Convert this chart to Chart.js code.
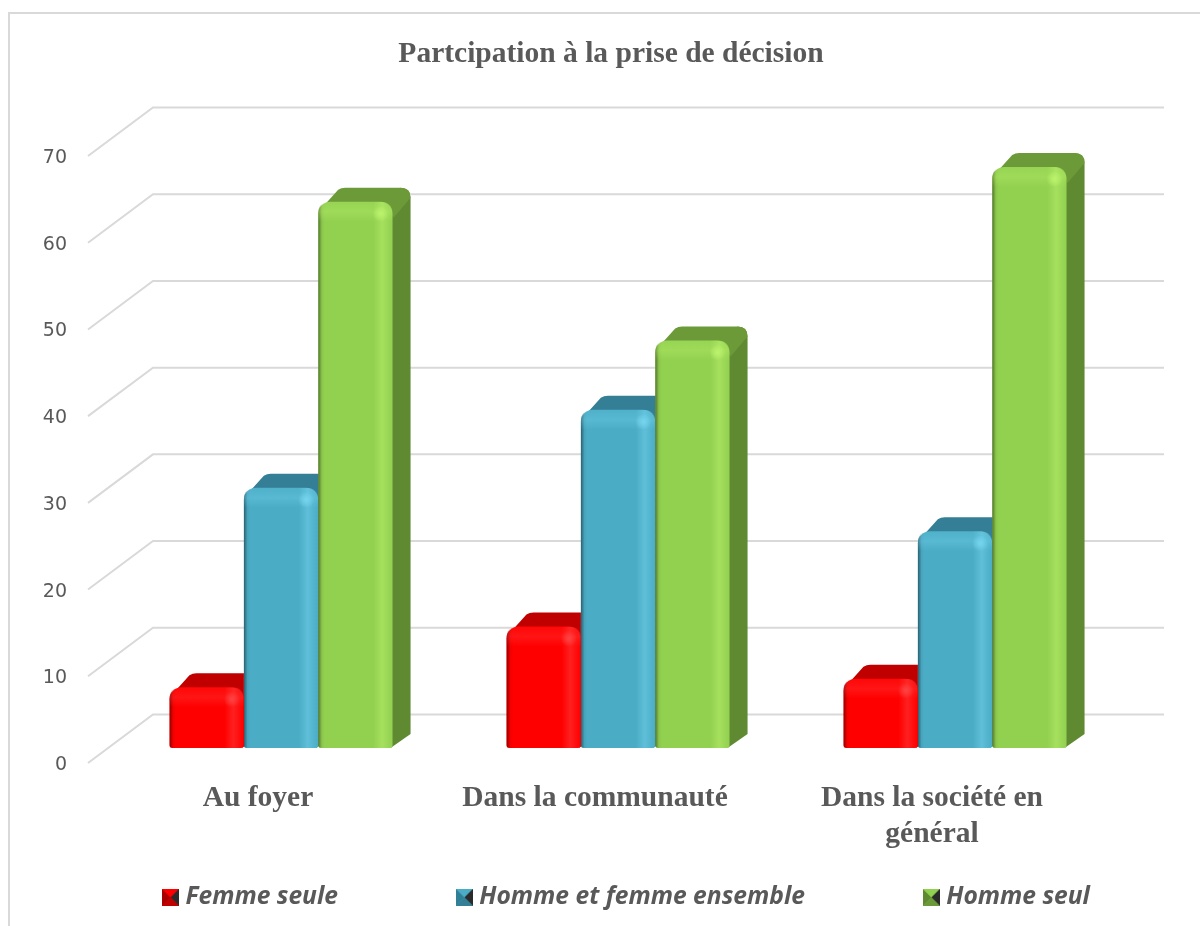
<!DOCTYPE html>
<html lang="fr">
<head>
<meta charset="utf-8">
<title>Participation</title>
<script src="https://cdn.jsdelivr.net/npm/chart.js@4"></script>
<style>
  html, body { margin: 0; background: #fff; }
  canvas { display: block; }
</style>
</head>
<body>
<canvas id="grafico" width="1200" height="926"></canvas>
<script>
const categorias = ['Au foyer', 'Dans la communauté', ['Dans la société en', 'général']];
const femmeSeule = [7, 14, 8];
const ensemble = [30, 39, 25];
const hommeSeul = [63, 47, 67];
const ticksY = [0, 10, 20, 30, 40, 50, 60, 70];

const corTexto = '#595959';
const corGrade = '#d9d9d9';
// frente, lado, topo, brilho
const cores = [
  ['#ff0000', '#a80000', '#c00000', 'rgba(255,70,70,'],
  ['#4bacc6', '#2f7f96', '#347f95', 'rgba(120,215,240,'],
  ['#92d050', '#5f8a31', '#6c9a38', 'rgba(190,245,110,']
];

function icone(frente, lado, topo) {
  const c = document.createElement('canvas');
  c.width = 17; c.height = 17;
  const g = c.getContext('2d');
  const tri = (cor, pts) => {
    g.fillStyle = cor;
    g.beginPath();
    pts.forEach((p, i) => i ? g.lineTo(p[0], p[1]) : g.moveTo(p[0], p[1]));
    g.closePath();
    g.fill();
  };
  g.fillStyle = frente;
  g.fillRect(0, 0, 17, 17);
  tri(topo, [[0, 17], [17, 17], [8.5, 8.5]]);
  tri(lado, [[0, 0], [0, 17], [8.5, 8.5]]);
  tri(frente, [[0, 0], [17, 0], [8.5, 8.5]]);
  tri('#2a2a2a', [[17, 0], [17, 17], [8.5, 8.5]]);
  return c;
}
const icones = cores.map(c => icone(c[0], c[1], c[2]));

function arredondado(ctx, x, y, w, h, r, rb) {
  ctx.beginPath();
  ctx.moveTo(x + r, y);
  ctx.lineTo(x + w - r, y);
  ctx.quadraticCurveTo(x + w, y, x + w, y + r);
  ctx.lineTo(x + w, y + h - rb);
  ctx.quadraticCurveTo(x + w, y + h, x + w - rb, y + h);
  ctx.lineTo(x + rb, y + h);
  ctx.quadraticCurveTo(x, y + h, x, y + h - rb);
  ctx.lineTo(x, y + r);
  ctx.quadraticCurveTo(x, y, x + r, y);
  ctx.closePath();
}

const DX = 18, DY = 14;

const fundo3d = {
  id: 'fundo3d',
  beforeDraw(chart) {
    const ctx = chart.ctx;
    ctx.save();
    ctx.strokeStyle = corGrade;
    ctx.lineWidth = 2;
    ctx.beginPath();
    ctx.moveTo(9, 926);
    ctx.lineTo(9, 13);
    ctx.lineTo(1200, 13);
    ctx.stroke();
    ctx.restore();
  },
  beforeDatasetsDraw(chart) {
    const ctx = chart.ctx;
    const y = chart.scales.y;
    ctx.save();
    ctx.strokeStyle = corGrade;
    ctx.lineWidth = 2;
    ticksY.forEach(v => {
      const py = y.getPixelForValue(v);
      ctx.beginPath();
      ctx.moveTo(88, py);
      ctx.lineTo(153, py - 48.5);
      ctx.lineTo(1164, py - 48.5);
      ctx.stroke();
    });
    // lado e topo das barras
    chart.data.datasets.forEach((ds, i) => {
      chart.getDatasetMeta(i).data.forEach(el => {
        const p = el.getProps(['x', 'y', 'base', 'width'], true);
        const x1 = p.x - p.width / 2, x2 = p.x + p.width / 2;
        ctx.fillStyle = cores[i][1];
        ctx.beginPath();
        ctx.moveTo(x2 - 6, p.y + 4);
        ctx.lineTo(x2 + DX - 10, p.y - DY);
        ctx.quadraticCurveTo(x2 + DX, p.y - DY, x2 + DX, p.y - DY + 10);
        ctx.lineTo(x2 + DX, p.base - DY);
        ctx.lineTo(x2 - 2, p.base);
        ctx.closePath();
        ctx.fill();
        ctx.fillStyle = cores[i][2];
        ctx.beginPath();
        ctx.moveTo(x1 + 2, p.y + 8);
        ctx.lineTo(x1 + DX + 2, p.y - DY + 2);
        ctx.quadraticCurveTo(x1 + DX + 5, p.y - DY, x1 + DX + 9, p.y - DY);
        ctx.lineTo(x2 + DX - 10, p.y - DY);
        ctx.quadraticCurveTo(x2 + DX, p.y - DY, x2 + DX, p.y - DY + 10);
        ctx.lineTo(x2 + 1, p.y + 16);
        ctx.lineTo(x2 - 6, p.y + 4);
        ctx.closePath();
        ctx.fill();
      });
    });
    ctx.restore();
  },
  afterDatasetsDraw(chart) {
    // brilho e chanfro da face frontal
    const ctx = chart.ctx;
    chart.data.datasets.forEach((ds, i) => {
      const brilho = cores[i][3];
      chart.getDatasetMeta(i).data.forEach(el => {
        const p = el.getProps(['x', 'y', 'base', 'width'], true);
        const x1 = p.x - p.width / 2, h = p.base - p.y;
        ctx.save();
        arredondado(ctx, x1, p.y, p.width, h, 12, 3);
        ctx.clip();
        const gh = ctx.createLinearGradient(x1, 0, x1 + p.width, 0);
        gh.addColorStop(0, 'rgba(0,0,0,0.45)');
        gh.addColorStop(0.05, 'rgba(0,0,0,0.05)');
        gh.addColorStop(0.09, 'rgba(0,0,0,0)');
        ctx.fillStyle = gh;
        ctx.fillRect(x1, p.y, p.width, h);
        const gb = ctx.createLinearGradient(x1, 0, x1 + p.width, 0);
        gb.addColorStop(0.74, brilho + '0)');
        gb.addColorStop(0.86, brilho + '0.45)');
        gb.addColorStop(0.95, brilho + '0.15)');
        gb.addColorStop(1, brilho + '0)');
        ctx.fillStyle = gb;
        ctx.fillRect(x1, p.y, p.width, h);
        const gv = ctx.createLinearGradient(0, p.y, 0, p.y + 20);
        gv.addColorStop(0, brilho + '0.1)');
        gv.addColorStop(0.5, brilho + '0.3)');
        gv.addColorStop(1, brilho + '0)');
        ctx.fillStyle = gv;
        ctx.fillRect(x1, p.y, p.width, 20);
        const gr = ctx.createRadialGradient(x1 + p.width - 12, p.y + 12, 0, x1 + p.width - 12, p.y + 12, 8);
        gr.addColorStop(0, brilho + '0.9)');
        gr.addColorStop(1, brilho + '0)');
        ctx.fillStyle = gr;
        ctx.fillRect(x1 + p.width - 20, p.y + 4, 16, 16);
        ctx.restore();
      });
    });
  },
  afterLayout(chart) {
    // titulo e legenda nao ficam centrados no canvas
    chart.titleBlock.left -= 4;
    chart.titleBlock.right -= 4;
    chart.legend.left += 14;
    chart.legend.right += 14;
    chart.legend.top -= 3;
    // senao o eixo corta os rotulos
    chart.scales.x.bottom = 870;
  }
};

const raioBarra = { topLeft: 12, topRight: 12, bottomLeft: 3, bottomRight: 3 };

new Chart(document.getElementById('grafico'), {
  type: 'bar',
  plugins: [fundo3d],
  data: {
    labels: categorias,
    datasets: [
      { label: 'Femme seule', data: femmeSeule, backgroundColor: cores[0][0], yAxisID: 'y1', borderRadius: raioBarra, borderSkipped: false },
      { label: 'Homme et femme ensemble', data: ensemble, backgroundColor: cores[1][0], yAxisID: 'y1', borderRadius: raioBarra, borderSkipped: false },
      { label: 'Homme seul', data: hommeSeul, backgroundColor: cores[2][0], yAxisID: 'y1', borderRadius: raioBarra, borderSkipped: false }
    ]
  },
  options: {
    responsive: false,
    animation: false,
    layout: { padding: { left: 30, right: 0, top: 0, bottom: 3.4 } },
    datasets: { bar: { categoryPercentage: 0.662, barPercentage: 1 } },
    plugins: {
      title: {
        display: true,
        text: 'Partcipation à la prise de décision',
        color: corTexto,
        font: { family: '"Liberation Serif"', size: 29.5, weight: 'bold', lineHeight: 1.2 },
        padding: { top: 37, bottom: 83.6 }
      },
      legend: {
        position: 'bottom',
        labels: {
          color: corTexto,
          font: { family: '"Open Sans"', size: 24.6, style: 'italic', weight: 'bold' },
          usePointStyle: true,
          boxWidth: 5,
          padding: 124,
          generateLabels(chart) {
            const itens = Chart.defaults.plugins.legend.labels.generateLabels(chart);
            itens.forEach((it, i) => { it.pointStyle = icones[i]; });
            return itens;
          }
        }
      },
      tooltip: { enabled: false }
    },
    scales: {
      x: {
        grid: { display: false, drawTicks: false },
        border: { display: false },
        afterFit(s) { s.height = 1; },
        ticks: {
          color: corTexto,
          autoSkip: false,
          maxRotation: 0,
          padding: 18,
          labelOffset: -23,
          font: { family: '"Liberation Serif"', size: 29.5, weight: 'bold', lineHeight: 1.2 }
        }
      },
      y: {
        min: 0,
        max: 70,
        grid: { display: false, drawTicks: false },
        border: { display: false },
        afterFit(s) { s.width = 82.5; },
        ticks: {
          color: corTexto,
          stepSize: 10,
          padding: 45.5,
          labelOffset: 2,
          font: { family: '"DejaVu Sans"', size: 19 }
        }
      },
      y1: {
        position: 'right',
        min: -1.73,
        max: 68.27,
        grid: { display: false, drawTicks: false },
        border: { display: false },
        ticks: { display: false },
        afterFit(s) { s.width = 76.5; }
      }
    }
  }
});
</script>
</body>
</html>
